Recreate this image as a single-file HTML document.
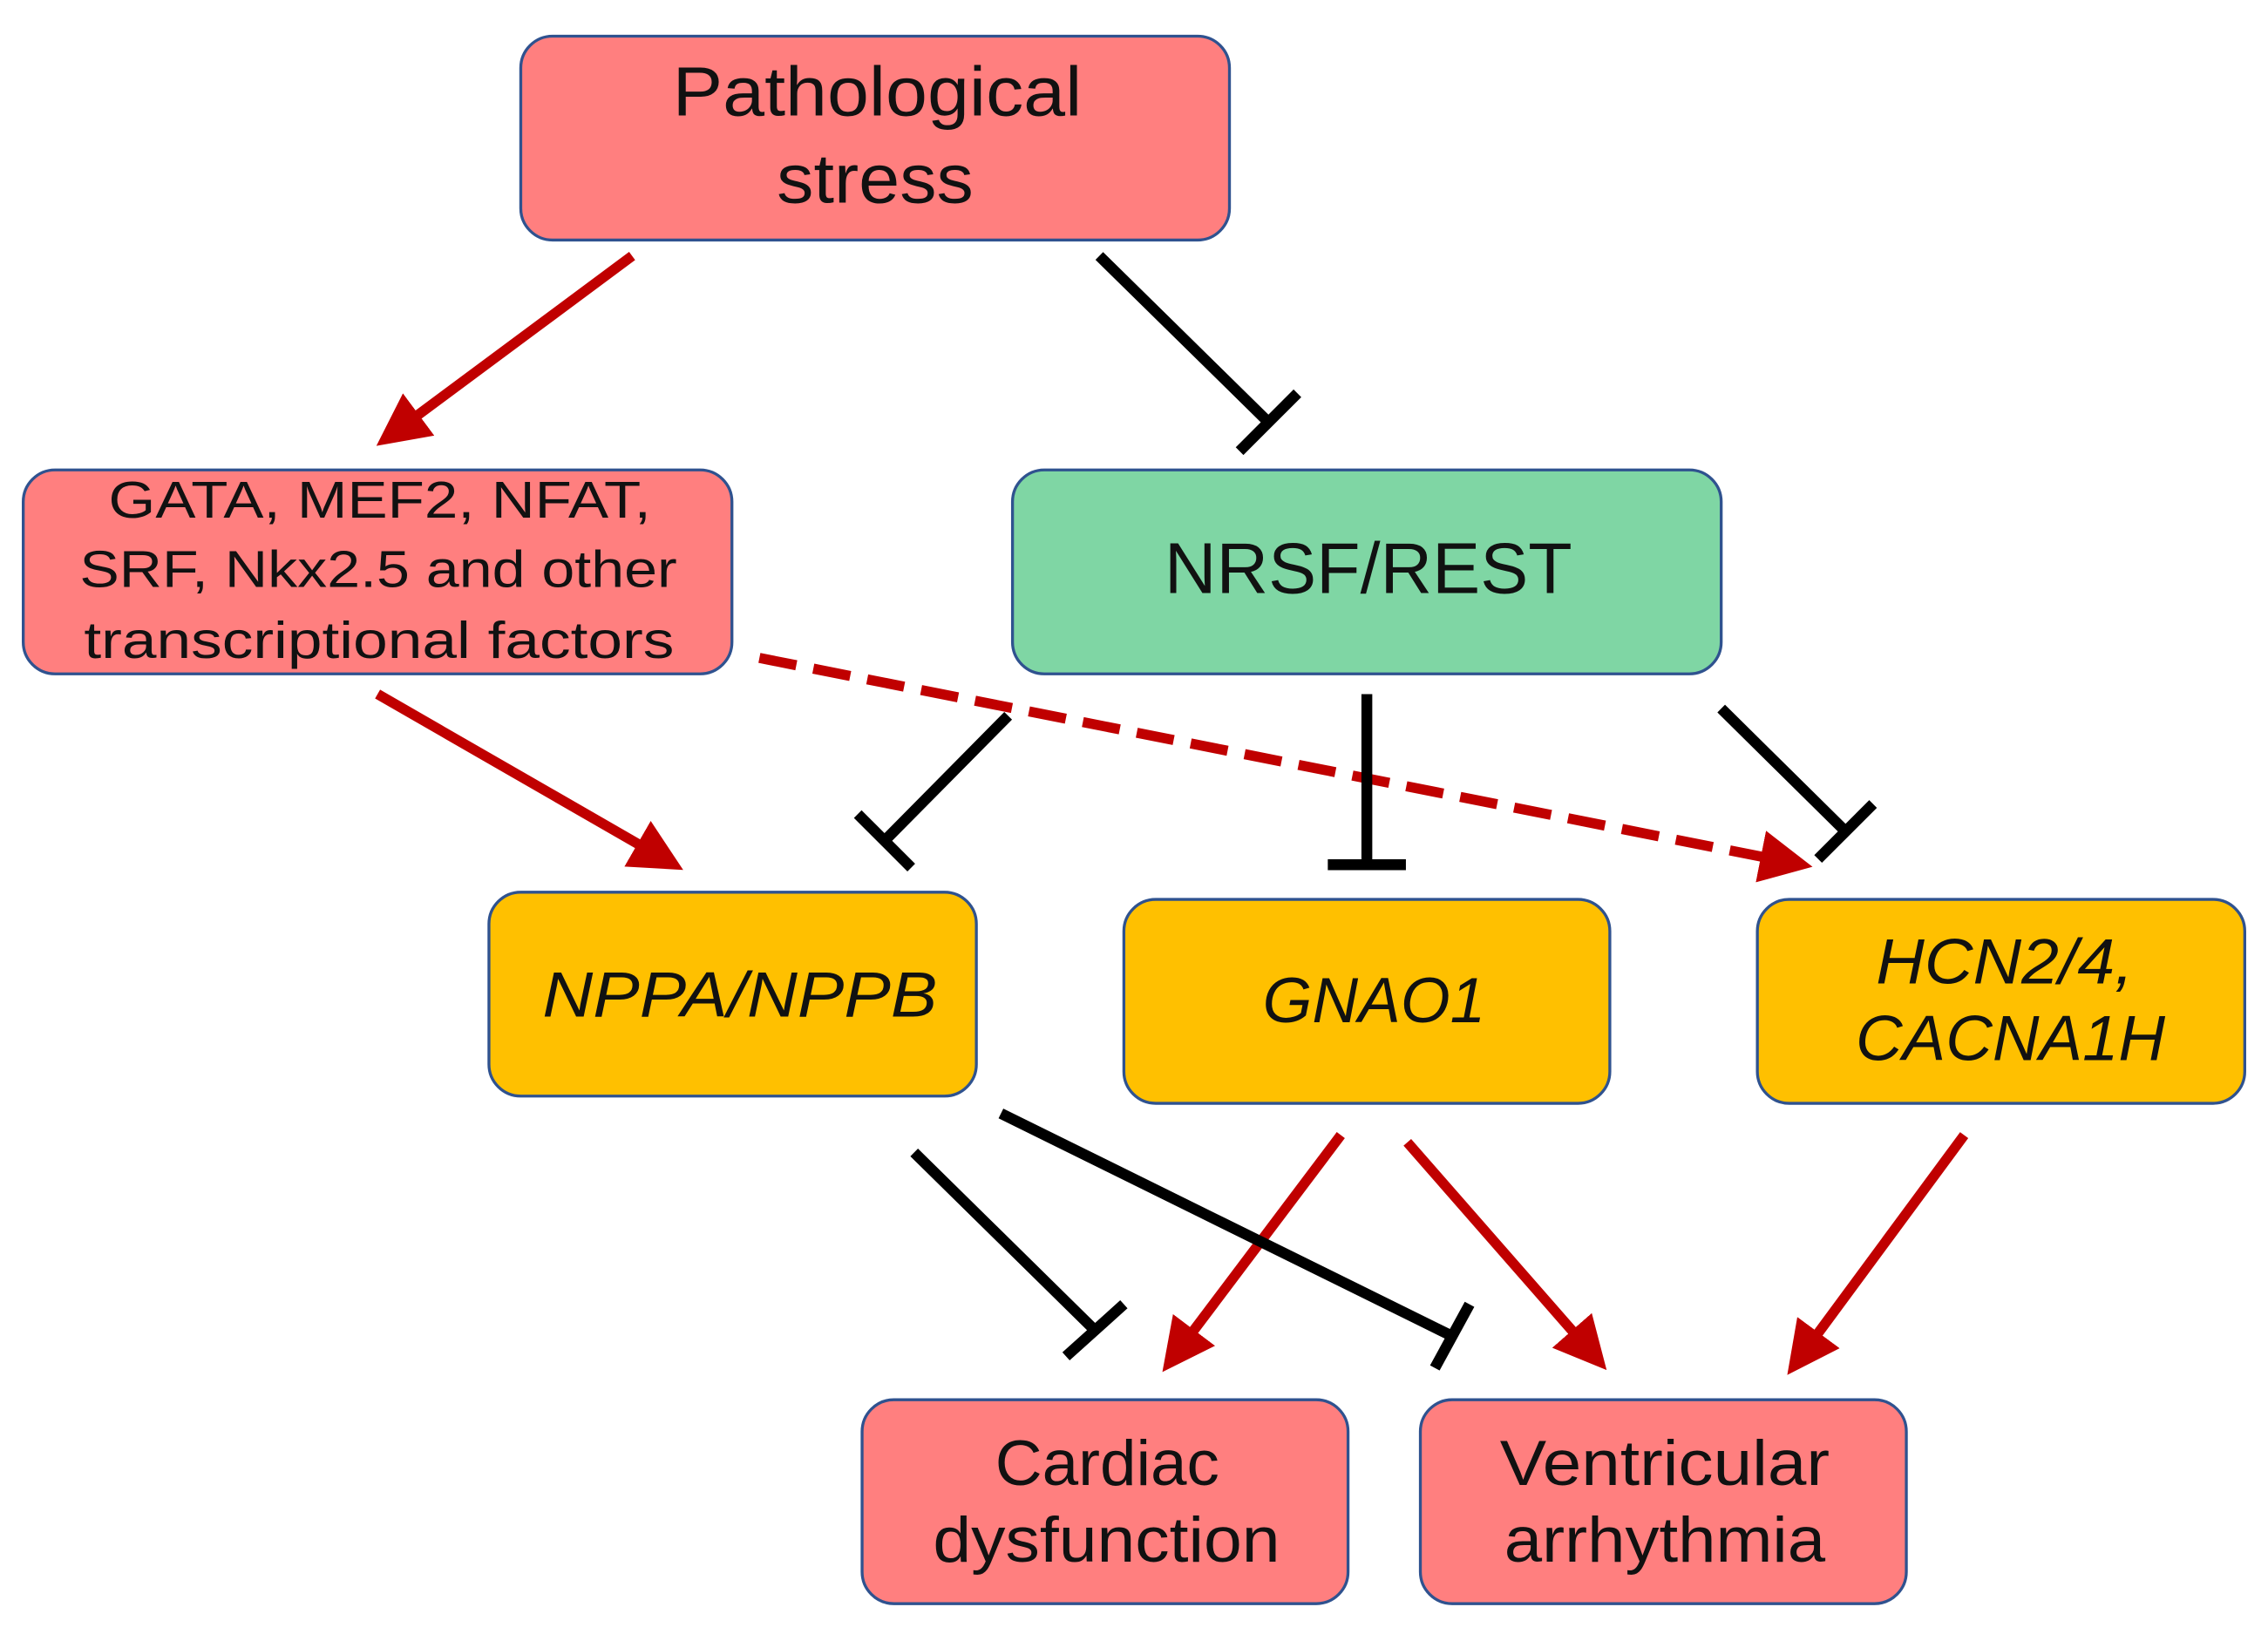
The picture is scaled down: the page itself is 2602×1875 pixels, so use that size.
<!DOCTYPE html>
<html><head><meta charset="utf-8"><style>
html,body{margin:0;padding:0;background:#fff;}
svg{display:block;}
text{font-family:"Liberation Sans",sans-serif;fill:#111;}
</style></head><body>
<svg width="2602" height="1875" viewBox="0 0 1568 1130" xmlns="http://www.w3.org/2000/svg">
<defs>
<marker id="ah" viewBox="0 0 10 10" refX="8" refY="5" markerWidth="5.2" markerHeight="5.2" markerUnits="strokeWidth" orient="auto">
<path d="M0,0 L10,5 L0,10 Z" fill="#C00000"/></marker>
</defs>
<g stroke="#2F528F" stroke-width="2">
<rect x="360" y="25" width="490" height="141" rx="22" fill="#FF7F7F"/>
<rect x="16" y="325" width="490" height="141" rx="22" fill="#FF7F7F"/>
<rect x="700" y="325" width="490" height="141" rx="22" fill="#7FD6A4"/>
<rect x="338" y="617" width="337" height="141" rx="22" fill="#FFC000"/>
<rect x="777" y="622" width="336" height="141" rx="22" fill="#FFC000"/>
<rect x="1215" y="622" width="337" height="141" rx="22" fill="#FFC000"/>
<rect x="596" y="968" width="336" height="141" rx="22" fill="#FF7F7F"/>
<rect x="982" y="968" width="336" height="141" rx="22" fill="#FF7F7F"/>
</g>
<g font-size="48">
<text x="465" y="80" textLength="283" lengthAdjust="spacingAndGlyphs">Pathological</text>
<text x="537" y="140" textLength="136" lengthAdjust="spacingAndGlyphs">stress</text>
</g>
<g font-size="36">
<text x="75" y="358" textLength="375" lengthAdjust="spacingAndGlyphs">GATA, MEF2, NFAT,</text>
<text x="55" y="406" textLength="413" lengthAdjust="spacingAndGlyphs">SRF, Nkx2.5 and other</text>
<text x="58" y="455" textLength="408" lengthAdjust="spacingAndGlyphs">transcriptional factors</text>
</g>
<text x="805" y="410" font-size="50" textLength="282" lengthAdjust="spacingAndGlyphs">NRSF/REST</text>
<g font-size="44" font-style="italic">
<text x="375" y="703" textLength="273" lengthAdjust="spacingAndGlyphs">NPPA/NPPB</text>
<text x="873" y="707" textLength="154" lengthAdjust="spacingAndGlyphs">GNAO1</text>
<text x="1297" y="680" textLength="178" lengthAdjust="spacingAndGlyphs">HCN2/4,</text>
<text x="1283" y="733" textLength="214" lengthAdjust="spacingAndGlyphs">CACNA1H</text>
</g>
<g font-size="44">
<text x="688" y="1027" textLength="155" lengthAdjust="spacingAndGlyphs">Cardiac</text>
<text x="645" y="1080" textLength="240" lengthAdjust="spacingAndGlyphs">dysfunction</text>
<text x="1037" y="1027" textLength="228" lengthAdjust="spacingAndGlyphs">Ventricular</text>
<text x="1040" y="1080" textLength="222" lengthAdjust="spacingAndGlyphs">arrhythmia</text>
</g>
<g stroke="#C00000" stroke-width="7" fill="none">
<line x1="437" y1="177" x2="266" y2="304" marker-end="url(#ah)"/>
<line x1="261" y1="480" x2="466" y2="598" marker-end="url(#ah)"/>
<line x1="525" y1="455" x2="1246" y2="598" stroke-dasharray="26,12" marker-end="url(#ah)"/>
<line x1="927" y1="785" x2="808" y2="943" marker-end="url(#ah)"/>
<line x1="973" y1="790" x2="1106" y2="942" marker-end="url(#ah)"/>
<line x1="1358" y1="785" x2="1240" y2="945" marker-end="url(#ah)"/>
</g>
<g stroke="#000" stroke-width="7.5" fill="none">
<line x1="760" y1="177" x2="877" y2="292"/><line x1="857" y1="312" x2="897" y2="272"/>
<line x1="697" y1="495" x2="612" y2="581"/><line x1="593" y1="563" x2="630" y2="600"/>
<line x1="945" y1="480" x2="945" y2="598"/><line x1="918" y1="598" x2="972" y2="598"/>
<line x1="1190" y1="490" x2="1276" y2="575"/><line x1="1257" y1="594" x2="1295" y2="556"/>
<line x1="632" y1="797" x2="757" y2="920"/><line x1="737" y1="938" x2="777" y2="902"/>
<line x1="692" y1="770" x2="1004" y2="924"/><line x1="992" y1="946" x2="1016" y2="902"/>
</g>
</svg>
</body></html>
